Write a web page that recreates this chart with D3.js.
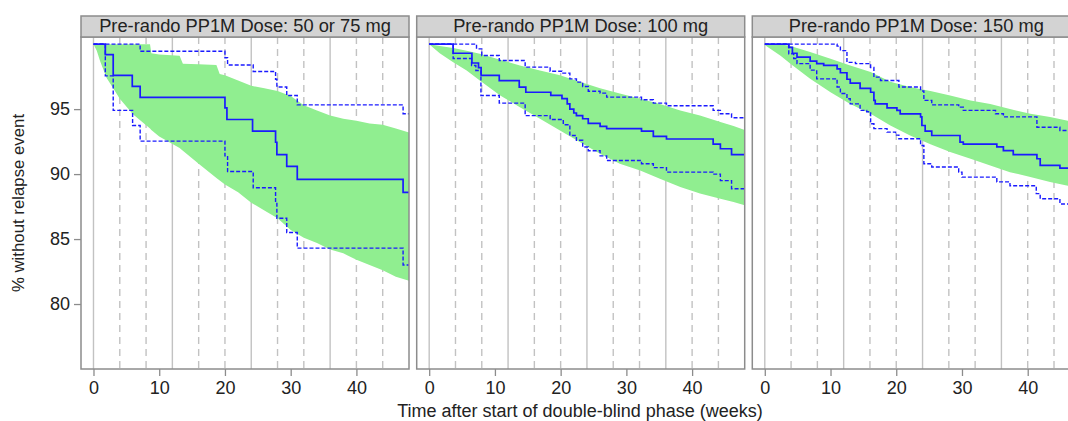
<!DOCTYPE html>
<html>
<head>
<meta charset="utf-8">
<script src="https://cdn.jsdelivr.net/npm/d3@7"></script>
<style>
  body { margin: 0; background: #fff; }
  svg text { font-family: "Liberation Sans", Arial, sans-serif; fill: #222; }
</style>
</head>
<body>
<div id="chart"></div>
<script>
// panel titles
var panelTitles = ["Pre-rando PP1M Dose: 50 or 75 mg", "Pre-rando PP1M Dose: 100 mg", "Pre-rando PP1M Dose: 150 mg"];

// tick labels
var xTicks = [0, 10, 20, 30, 40];
var yTicks = [80, 85, 90, 95];
var solidWeeks = [0, 12, 24, 36];
var dashedWeeks = [4, 8, 16, 20, 28, 32, 40, 44];

// KM estimate [week, %]
var km50 = [[0,100],[1.8,99.2],[3.0,97.6],[5.9,96.75],[7.1,95.9],[20.0,95.1],[20.3,94.2],[24.2,93.3],[27.7,92.45],[27.9,91.5],[29.4,90.6],[31.0,89.6],[47.1,88.6],[48,88.6]];
var up50 = [[0,100],[7.1,99.45],[20.0,98.95],[20.4,98.4],[24.3,97.9],[27.7,97.3],[27.9,96.7],[29.4,96.05],[31.0,95.33],[47.1,94.64],[48,94.64]];
var lo50 = [[0,100],[1.8,97.56],[3.0,94.9],[5.95,93.74],[7.1,92.54],[20.0,91.4],[20.4,90.2],[24.3,88.95],[27.7,87.8],[27.9,86.6],[29.4,85.5],[31.0,84.3],[47.1,83.0],[48,83.0]];
// simulation band [week, lower, upper]
var band50 = [[0,100,100],[0.5,99.5,100],[1,98.7,100],[2,97.4,100],[3,96.6,100],[4,95.8,100],[6,94.6,100],[8.6,93.5,100],[8.8,93.4,99.3],[10,92.9,99.2],[13.1,92.0,99.1],[13.6,91.8,98.5],[16,90.8,98.45],[18.7,89.7,98.4],[19.2,89.5,97.7],[20,89.2,97.6],[22,88.6,97.2],[24,87.8,96.8],[26,87.2,96.6],[28,86.6,96.4],[30,85.7,96.0],[32,85.1,95.3],[34,84.7,94.9],[36,84.2,94.5],[38,83.9,94.26],[40,83.4,94.1],[42,83.0,93.9],[44,82.6,93.8],[46,82.1,93.5],[48,81.8,93.2]];

var km100 = [[0,100],[3.65,99.3],[6.5,98.55],[7.5,98.2],[7.9,97.6],[10.66,97.2],[13.7,96.7],[14.7,96.3],[18.5,96.05],[20.2,95.8],[21.0,95.4],[21.4,95.0],[22.0,94.7],[22.4,94.5],[23.35,94.26],[24.2,93.9],[26.0,93.67],[27.0,93.5],[32.3,93.3],[34.1,92.9],[36.1,92.7],[43.2,92.3],[44.3,91.95],[46.0,91.5],[48,91.5]];
var up100 = [[0,100],[7.2,99.64],[8.0,99.13],[10.66,98.74],[14.6,98.23],[18.4,97.92],[20.2,97.77],[21.4,97.33],[22.4,97.08],[23.35,96.74],[24.2,96.38],[26.0,96.23],[27.0,95.92],[32.3,95.72],[34.1,95.46],[36.1,95.26],[43.2,94.9],[44.3,94.64],[46.0,94.33],[48,94.33]];
var lo100 = [[0,100],[3.65,98.9],[6.45,98.36],[7.1,97.97],[7.87,96.05],[10.66,95.46],[14.6,94.5],[18.4,94.2],[20.4,93.8],[21.4,92.97],[22.4,92.6],[23.35,92.08],[24.2,91.8],[26.0,91.4],[27.0,91.05],[32.3,90.8],[34.1,90.5],[36.1,90.15],[43.2,90.0],[44.3,89.5],[46.0,88.87],[48,88.87]];
var band100 = [[0,100,100],[1.6,99.3,99.85],[3.65,98.6,99.7],[5.7,97.97,99.5],[7.7,97.2,99.26],[10.8,96.05,98.8],[13.8,95.15,98.36],[16.85,94.26,97.97],[19.9,93.36,97.6],[22.9,92.46,97.1],[26,91.56,96.6],[29,90.8,96.2],[32.1,90.28,95.8],[35.1,89.64,95.4],[38.2,89.0,94.9],[41.2,88.5,94.5],[44.3,88.1,94.0],[46.3,87.85,93.7],[48,87.6,93.4]];

var km150 = [[0,100],[3.65,99.75],[4.2,99.3],[4.9,99.0],[6.9,98.7],[7.9,98.5],[8.96,98.36],[11.0,98.1],[11.5,97.8],[12.5,97.3],[13.0,97.0],[14.5,96.6],[16.1,96.3],[16.6,95.67],[16.8,95.4],[18.6,95.1],[20.1,94.9],[20.6,94.64],[23.7,94.4],[23.9,93.74],[24.4,93.3],[25.4,92.97],[29.7,92.46],[30.2,92.3],[35.3,92.1],[36.3,91.8],[37.8,91.5],[41.4,91.18],[41.9,90.67],[44.9,90.46],[48,90.46]];
var up150 = [[0,100],[11.0,99.85],[11.5,99.5],[12.5,98.6],[13.8,98.5],[16.1,98.2],[16.6,97.46],[17.6,97.2],[20.4,96.7],[23.7,96.4],[24.2,95.67],[25.4,95.33],[29.5,95.15],[30.2,94.9],[35.1,94.64],[36.3,94.4],[41.4,93.6],[44.9,93.36],[48,93.36]];
var lo150 = [[0,100],[3.65,99.26],[4.4,98.9],[4.9,98.5],[6.9,98.0],[7.9,97.33],[11.0,96.7],[11.5,96.2],[12.5,95.8],[13.0,95.4],[14.5,94.9],[15.5,94.8],[16.1,93.87],[16.6,93.5],[18.6,93.23],[19.9,93.0],[20.4,92.72],[23.7,92.2],[24.2,90.8],[25.4,90.54],[29.5,90.15],[30.0,89.77],[35.3,89.4],[37.3,89.1],[41.3,88.5],[41.9,88.1],[44.9,87.7],[48,87.7]];
var band150 = [[0,100,100],[0.1,99.9,100],[2.4,99.1,100],[3.9,98.5,99.85],[6.9,97.33,99.4],[10,96.3,98.87],[13,95.4,98.36],[16.1,94.64,97.85],[19.1,93.74,97.1],[22.1,92.97,96.7],[25.2,92.3,96.4],[28.2,91.7,96.05],[31.3,91.18,95.67],[34.3,90.67,95.4],[37.3,90.15,95.0],[40.4,89.77,94.64],[43.4,89.4,94.4],[46.1,89.1,94.1],[48,88.9,93.9]];

var kmData = [km50, km100, km150];
var upData = [up50, up100, up150];
var loData = [lo50, lo100, lo150];
var bandData = [band50, band100, band150];

// Layout
var width = 1068, height = 421;
var panelLeft = [81, 416.7, 752.3];
var panelW = 328;
var stripTop = 16, plotTop = 37, plotBottom = 369;

var svg = d3.select("#chart").append("svg")
    .attr("width", width)
    .attr("height", height);

var x = d3.scaleLinear().domain([-1.9, 48]).range([0, panelW]);
var y = d3.scaleLinear().domain([75, 100.55]).range([plotBottom, plotTop]);

var stepLine = d3.line()
    .x(function(d) { return x(d[0]); })
    .y(function(d) { return y(d[1]); })
    .curve(d3.curveStepAfter);

// band edges are very fine steps in the original, linear looks closest
var bandArea = d3.area()
    .x(function(d) { return x(d[0]); })
    .y0(function(d) { return y(d[1]); })
    .y1(function(d) { return y(d[2]); });

panelTitles.forEach(function(title, i) {
    var g = svg.append("g").attr("transform", "translate(" + panelLeft[i] + ",0)");

    // clip so nothing spills over the panel border
    svg.append("clipPath").attr("id", "clip" + i)
        .append("rect").attr("x", 0).attr("y", plotTop).attr("width", panelW).attr("height", plotBottom - plotTop);

    var inner = g.append("g").attr("clip-path", "url(#clip" + i + ")");

    // reference lines
    inner.selectAll(".solidRef").data(solidWeeks).enter().append("line")
        .attr("x1", function(d) { return x(d); })
        .attr("x2", function(d) { return x(d); })
        .attr("y1", plotTop).attr("y2", plotBottom)
        .style("stroke", "#c2c2c2").style("stroke-width", 1.4);

    inner.selectAll(".dashRef").data(dashedWeeks).enter().append("line")
        .attr("x1", function(d) { return x(d); })
        .attr("x2", function(d) { return x(d); })
        .attr("y1", plotTop).attr("y2", plotBottom)
        .style("stroke", "#c2c2c2").style("stroke-width", 1.4)
        .style("stroke-dasharray", "7,5");

    // green band
    inner.append("path").datum(bandData[i])
        .attr("d", bandArea)
        .style("fill", "#90ee90").style("stroke", "none");

    // CI lines
    [upData[i], loData[i]].forEach(function(ci) {
        inner.append("path").datum(ci)
            .attr("d", stepLine)
            .style("fill", "none").style("stroke", "#1a1aff")
            .style("stroke-width", 1.4).style("stroke-dasharray", "4,2");
    });

    // KM line
    inner.append("path").datum(kmData[i])
        .attr("d", stepLine)
        .style("fill", "none").style("stroke", "#1a1aff").style("stroke-width", 1.7);

    // panel border
    g.append("rect")
        .attr("x", 0).attr("y", plotTop)
        .attr("width", panelW).attr("height", plotBottom - plotTop)
        .style("fill", "none").style("stroke", "#8c8c8c").style("stroke-width", 1.5);

    // strip
    g.append("rect")
        .attr("x", 0).attr("y", stripTop)
        .attr("width", panelW).attr("height", plotTop - stripTop)
        .style("fill", "#d3d3d3").style("stroke", "#8c8c8c").style("stroke-width", 1.5);

    g.append("text")
        .attr("x", panelW / 2).attr("y", plotTop - 5)
        .attr("text-anchor", "middle")
        .style("font-size", "18.3px")
        .text(title);

    // x axis
    var xAxis = d3.axisBottom(x).tickValues(xTicks).tickSize(7).tickPadding(5);
    var xg = g.append("g").attr("transform", "translate(0," + plotBottom + ")").call(xAxis);
    xg.select(".domain").remove();
    xg.selectAll(".tick line").style("stroke", "#8c8c8c").style("stroke-width", 1.3);
    xg.selectAll(".tick text").style("font-size", "18px").style("fill", "#222");
});

// y axis
var yAxis = d3.axisLeft(y).tickValues(yTicks).tickSize(7).tickPadding(4);
var yg = svg.append("g").attr("transform", "translate(" + panelLeft[0] + ",0)").call(yAxis);
yg.select(".domain").remove();
yg.selectAll(".tick line").style("stroke", "#8c8c8c").style("stroke-width", 1.3);
yg.selectAll(".tick text").style("font-size", "18px").style("fill", "#222");

// axis titles
svg.append("text")
    .attr("x", 580).attr("y", 417)
    .attr("text-anchor", "middle")
    .style("font-size", "18px")
    .text("Time after start of double-blind phase (weeks)");

svg.append("text")
    .attr("transform", "translate(24,203)rotate(-90)")
    .attr("text-anchor", "middle")
    .style("font-size", "16.8px")
    .text("% without relapse event");
</script>
</body>
</html>
